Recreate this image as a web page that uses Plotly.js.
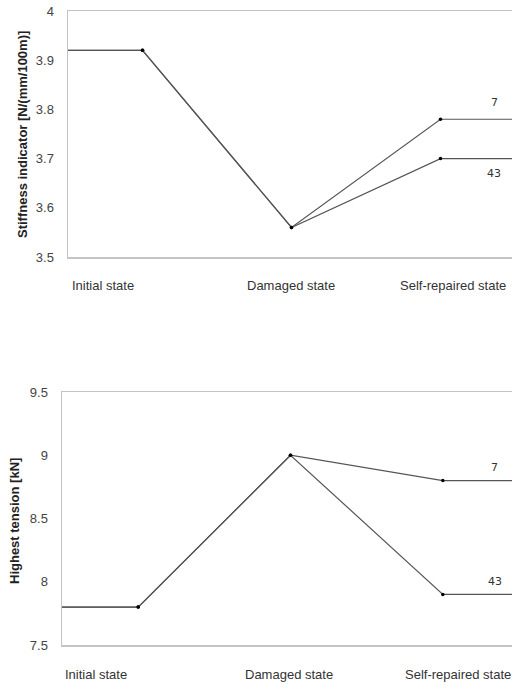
<!DOCTYPE html>
<html>
<head>
<meta charset="utf-8">
<script src="https://cdn.plot.ly/plotly-3.0.1.min.js"></script>
<style>
html,body{margin:0;padding:0;overflow:hidden;background:#fff;width:512px;height:688px;}
#chart{width:520px;height:688px;}
</style>
</head>
<body>
<div id="chart"></div>
<script>
const categories = ['Initial state', 'Damaged state', 'Self-repaired state'];
const seriesLabels = ['7', '43'];
const stiffness7 = [3.92, 3.56, 3.78];
const stiffness43 = [3.92, 3.56, 3.70];
const tension7 = [7.8, 9.0, 8.8];
const tension43 = [7.8, 9.0, 7.9];
const stiffTicks = [3.5, 3.6, 3.7, 3.8, 3.9, 4];
const tensionTicks = [7.5, 8, 8.5, 9, 9.5];

const W = 520, H = 688;
const FONT = "'Liberation Sans Narrow', 'Arial Narrow', 'Liberation Sans', Arial, sans-serif";
const LINE = '#555555';

// x positions: category index, with flat lead-in / lead-out half a step
const idx = categories.map((c, i) => i);
function ext(vals) {
  return {
    x: [idx[0] - 0.5].concat(idx, [idx[idx.length - 1] + 0.5]),
    y: [vals[0]].concat(vals, [vals[vals.length - 1]])
  };
}

const traces = [];
function addSeries(vals, xa, ya) {
  const e = ext(vals);
  traces.push({x: e.x, y: e.y, xaxis: xa, yaxis: ya, mode: 'lines', type: 'scatter',
    line: {color: LINE, width: 1.2}, hoverinfo: 'skip', showlegend: false, cliponaxis: false});
  traces.push({x: idx, y: vals, xaxis: xa, yaxis: ya, mode: 'markers', type: 'scatter',
    marker: {color: '#000', size: 3.5}, showlegend: false, cliponaxis: false});
}
addSeries(stiffness7, 'x', 'y');
addSeries(stiffness43, 'x', 'y');
addSeries(tension7, 'x2', 'y2');
addSeries(tension43, 'x2', 'y2');

const axBase = {
  showgrid: false, zeroline: false, showline: true, mirror: true,
  linecolor: '#c4c4c4', linewidth: 1.5, ticks: '', fixedrange: true
};
const yBase = Object.assign({}, axBase, {
  tickfont: {family: FONT, size: 13, color: '#444'}, ticklabelstandoff: 10
});

const annotations = [];
// y titles
annotations.push({text: '<b>Stiffness indicator [N/(mm/100m)]</b>', xref: 'paper', yref: 'paper',
  x: 22 / W, y: 1 - 135 / H, textangle: -90, showarrow: false,
  font: {family: FONT, size: 13, color: '#222'}, xanchor: 'center', yanchor: 'middle'});
annotations.push({text: '<b>Highest tension [kN]</b>', xref: 'paper', yref: 'paper',
  x: 14 / W, y: 1 - 521 / H, textangle: -90, showarrow: false,
  font: {family: FONT, size: 13, color: '#222'}, xanchor: 'center', yanchor: 'middle'});
// category labels
const catTop = [70, 245, 398];
const catBot = [63, 243, 403];
categories.forEach((c, i) => {
  annotations.push({text: c, xref: 'paper', yref: 'paper', x: catTop[i] / W, y: 1 - 285 / H,
    showarrow: false, xanchor: 'left', yanchor: 'middle',
    font: {family: FONT, size: 13, color: '#333'}});
  annotations.push({text: c, xref: 'paper', yref: 'paper', x: catBot[i] / W, y: 1 - 674 / H,
    showarrow: false, xanchor: 'left', yanchor: 'middle',
    font: {family: FONT, size: 13, color: '#333'}});
});
// series labels
const lblFont = {family: "'DejaVu Sans', sans-serif", size: 11, color: '#333'};
annotations.push({text: seriesLabels[0], xref: 'x', yref: 'y', x: 2.36, y: stiffness7[2], yshift: 17,
  showarrow: false, font: lblFont});
annotations.push({text: seriesLabels[1], xref: 'x', yref: 'y', x: 2.36, y: stiffness43[2], yshift: -15,
  showarrow: false, font: lblFont});
annotations.push({text: seriesLabels[0], xref: 'x2', yref: 'y2', x: 2.34, y: tension7[2], yshift: 13,
  showarrow: false, font: lblFont});
annotations.push({text: seriesLabels[1], xref: 'x2', yref: 'y2', x: 2.34, y: tension43[2], yshift: 13,
  showarrow: false, font: lblFont});

const layout = {
  width: W, height: H,
  margin: {l: 0, r: 0, t: 0, b: 0},
  paper_bgcolor: '#fff', plot_bgcolor: '#fff',
  showlegend: false,
  xaxis: Object.assign({}, axBase, {domain: [68 / W, 515 / W], range: [-0.5, 2.5], showticklabels: false, anchor: 'y'}),
  yaxis: Object.assign({}, yBase, {domain: [1 - 257 / H, 1 - 11 / H], range: [3.5, 4], tickvals: stiffTicks, anchor: 'x'}),
  xaxis2: Object.assign({}, axBase, {domain: [62 / W, 519 / W], range: [-0.5, 2.5], showticklabels: false, anchor: 'y2'}),
  yaxis2: Object.assign({}, yBase, {domain: [1 - 645 / H, 1 - 392 / H], range: [7.5, 9.5], tickvals: tensionTicks, anchor: 'x2'}),
  annotations: annotations
};

Plotly.newPlot('chart', traces, layout, {staticPlot: true, displayModeBar: false});
</script>
</body>
</html>
